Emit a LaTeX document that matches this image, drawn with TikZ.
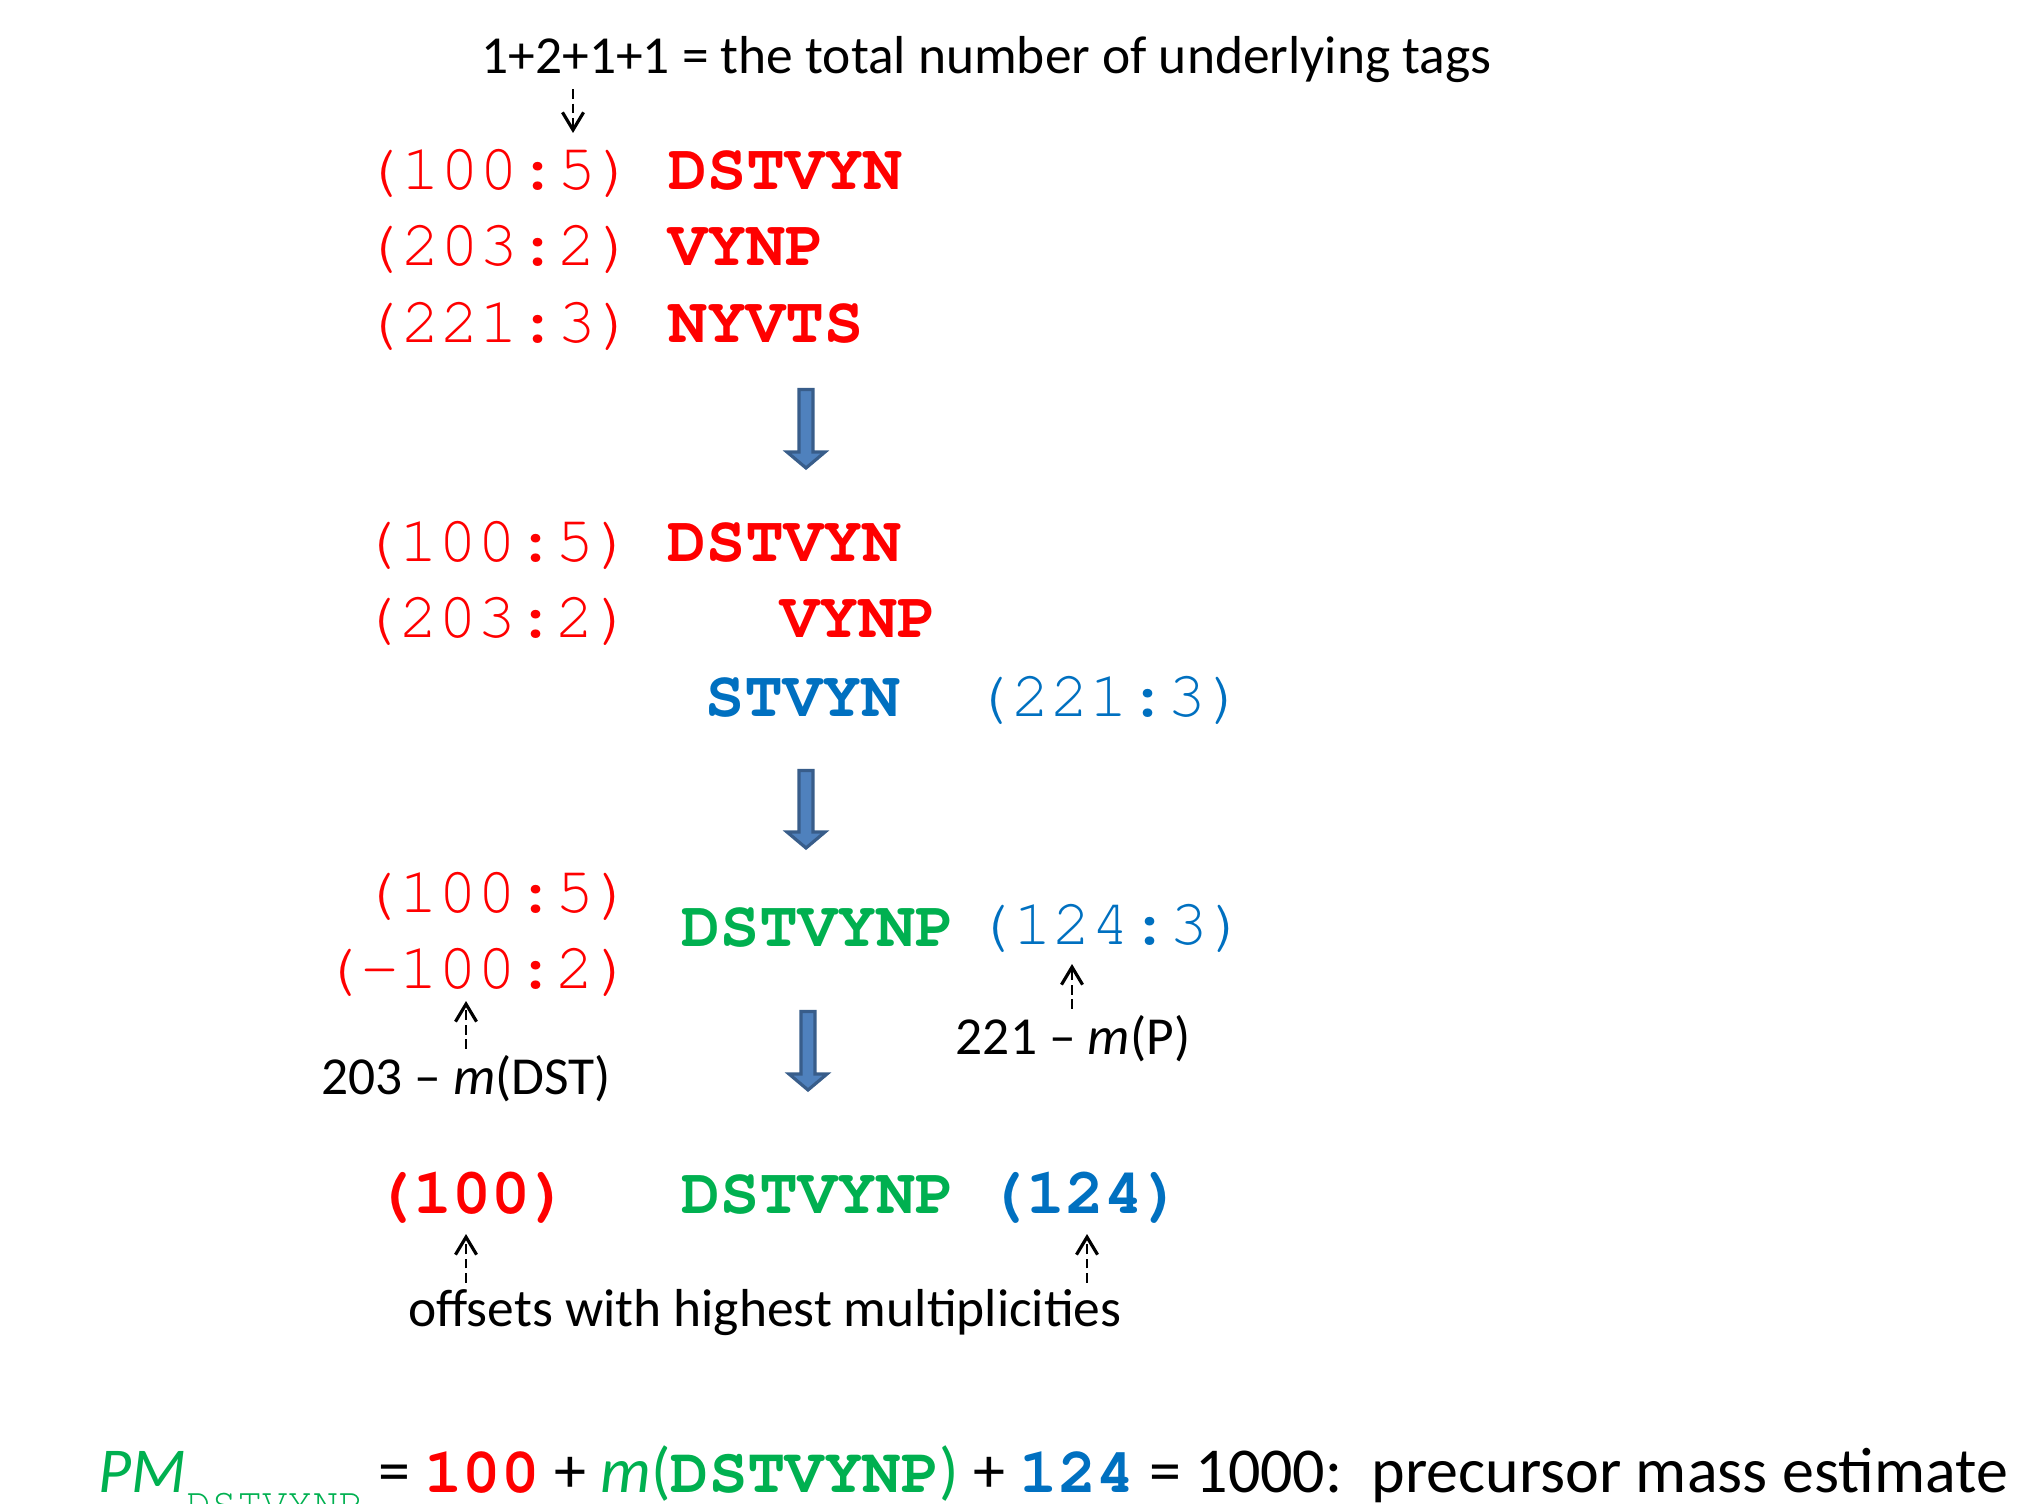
\documentclass[tikz,border=0pt]{standalone}
\usepackage{fontspec}
\setmainfont{Carlito}
\newfontfamily\cour{TeX Gyre Cursor}
\usetikzlibrary{arrows.meta}
\definecolor{tagred}{RGB}{255,0,0}
\definecolor{tagblue}{RGB}{0,112,192}
\definecolor{taggreen}{RGB}{0,176,80}
\definecolor{arrowfill}{RGB}{79,129,189}
\definecolor{arrowline}{RGB}{56,93,138}
\tikzset{
	offs/.style={inner sep=0pt, font=\cour\fontsize{18.5}{20}\selectfont},
	seq/.style={inner sep=0pt, font=\cour\bfseries\fontsize{18.5}{20}\selectfont},
	note/.style={inner sep=0pt, font=\fontsize{15.2}{18}\selectfont},
	tagarrow/.style={line width=0.8pt, dash pattern=on 2.8pt off 1.3pt, shorten <=1.5pt, -{Straight Barb[length=5pt,width=6pt,line width=0.9pt]}},
	blockarrow/.style={draw=arrowline, fill=arrowfill, line width=0.9pt, line join=miter}
}
\begin{document}
\begin{tikzpicture}[x=0.01cm,y=-0.01cm]
		\useasboundingbox (0,0) rectangle (2043,1504);
		\node[note, anchor=base west] (total) at (481,74) {1+2+1+1 = the total number of underlying tags};
		\node[offs, text=tagred, anchor=base east] (o1) at (636,190) {(100:5)};
		\node[seq, text=tagred, anchor=base west] (t1) at (668,190) {DSTVYN};
		\node[offs, text=tagred, anchor=base east] (o2) at (636,266) {(203:2)};
		\node[seq, text=tagred, anchor=base west] (t2) at (668,266) {VYNP};
		\node[offs, text=tagred, anchor=base east] (o3) at (636,343) {(221:3)};
		\node[seq, text=tagred, anchor=base west] (t3) at (668,343) {NYVTS};
		\coordinate (h1) at (573,133);
		\draw[tagarrow] (total.south -| h1) -- (h1);
		\draw[blockarrow] (799,389.5) -- (813,389.5) -- (813,452) -- (825,452) -- (806,468) -- (787,452) -- (799,452) -- cycle;
		\node[offs, text=tagred, anchor=base east] (p1) at (634,562) {(100:5)};
		\node[seq, text=tagred, anchor=base west] (q1) at (667,562) {DSTVYN};
		\node[offs, text=tagred, anchor=base east] (p2) at (634,638) {(203:2)};
		\node[seq, text=tagred, anchor=base west] (q2) at (780,638) {VYNP};
		\node[seq, text=tagblue, anchor=base east] (q3) at (901,717) {STVYN};
		\node[offs, text=tagblue, anchor=base west] (p3) at (972,717) {(221:3)};
		\draw[blockarrow] (799,770.5) -- (813,770.5) -- (813,832) -- (825,832) -- (806,848) -- (787,832) -- (799,832) -- cycle;
		\node[offs, text=tagred, anchor=base east] (r1) at (634,912) {(100:5)};
		\node[offs, text=tagred, anchor=base east] (r2) at (634,988) {(-100:2)};
		\node[seq, text=taggreen, anchor=base west] (s1) at (681,946) {DSTVYNP};
		\node[offs, text=tagblue, anchor=base west] (s2) at (974,944) {(124:3)};
		\node[note, anchor=base] (mP) at (1073,1054) {221 – \textit{m}(P)};
		\node[note, anchor=base] (mDST) at (466,1094) {203 – \textit{m}(DST)};
		\coordinate (h2) at (1072,964);
		\coordinate (h3) at (466,1001);
		\draw[tagarrow] (mP.north -| h2) -- (h2);
		\draw[tagarrow] (mDST.north -| h3) -- (h3);
		\draw[blockarrow] (801,1011.5) -- (815,1011.5) -- (815,1074) -- (827,1074) -- (808,1090) -- (789,1074) -- (801,1074) -- cycle;
		\node[seq, text=tagred, anchor=base] (big100) at (472,1213) {(100)};
		\node[seq, text=taggreen, anchor=base west] (s3) at (681,1213) {DSTVYNP};
		\node[seq, text=tagblue, anchor=base] (big124) at (1085,1213) {(124)};
		\node[note, anchor=base] (off) at (765,1326) {offsets with highest multiplicities};
		\coordinate (h4) at (466,1234);
		\coordinate (h5) at (1087,1234);
		\draw[tagarrow] (off.north -| h4) -- (h4);
		\draw[tagarrow] (off.north -| h5) -- (h5);
		\node[inner sep=0pt, anchor=base west, font=\fontsize{18.2}{20}\selectfont] (pm) at (98,1492) {\textcolor{taggreen}{\textit{PM}\raisebox{-0.4em}{\cour\fontsize{12}{12}\selectfont DSTVYNP}} = \textcolor{tagred}{\cour\bfseries 100} + \textcolor{taggreen}{\textit{m}(\cour\bfseries DSTVYNP\normalfont)} + \textcolor{tagblue}{\cour\bfseries 124} = 1000:\ \ precursor mass estimate};
	\end{tikzpicture}
\end{document}
